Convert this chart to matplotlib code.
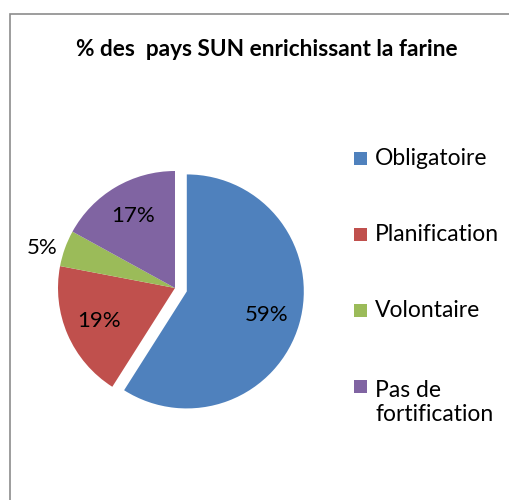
import numpy as np
import matplotlib.pyplot as plt
from matplotlib.patches import Rectangle

plt.rcParams['font.family'] = ['Lato', 'DejaVu Sans']

categories = ['Obligatoire', 'Planification', 'Volontaire', 'Pas de\nfortification']
values = [59, 19, 5, 17]
colors = ['#4F81BD', '#C0504D', '#9BBB59', '#8064A2']
explode = [0.105, 0, 0, 0]
title = '% des  pays SUN enrichissant la farine'

W, H = 510, 500
fig = plt.figure(figsize=(W / 100, H / 100), dpi=100)

# chart frame (right/bottom edges run off the picture)
fig.patches.append(Rectangle((10 / W, -0.1), 1.0, 1 - 14 / H + 0.1,
                             transform=fig.transFigure, fill=False,
                             edgecolor='#8c8c8c', linewidth=1.2))

fig.text(267 / W, 1 - 50 / H, title, ha='center', va='center',
         fontsize=16.3, fontweight='bold')

# pie axes: centre (175, 288) px, radius 117 px
cx, cy, r = 175, 288, 117
half = 1.1 * r
ax = fig.add_axes([(cx - half) / W, (H - cy - half) / H, 2 * half / W, 2 * half / H])
wedges, texts, autotexts = ax.pie(values, colors=colors, explode=explode,
                                  startangle=90, counterclock=False,
                                  autopct='%1.0f%%', pctdistance=0.71,
                                  wedgeprops=dict(linewidth=0),
                                  textprops=dict(fontsize=16))
# small slice label sits outside the pie
for t, v in zip(autotexts, values):
    if v < 8:
        x, y = t.get_position()
        ang = np.arctan2(y, x) + np.radians(3)
        t.set_position((1.19 * np.cos(ang), 1.19 * np.sin(ang)))
ax.set_xlim(-1.1, 1.1)
ax.set_ylim(-1.1, 1.1)
ax.set_aspect('equal')
ax.axis('off')

# legend: square + label, first line centred on the square
for i, (lab, col) in enumerate(zip(categories, colors)):
    yc = 158 + 76 * i
    nl = lab.count('\n')
    fig.patches.append(Rectangle((354 / W, 1 - (yc + 6.5) / H), 13 / W, 13 / H,
                                 transform=fig.transFigure, facecolor=col,
                                 edgecolor='none'))
    fig.text(375 / W, 1 - (yc + 7 + 28 * nl) / H, lab, ha='left', va='baseline',
             fontsize=16.5, linespacing=1.2)

fig.savefig('out.png', dpi=100)
